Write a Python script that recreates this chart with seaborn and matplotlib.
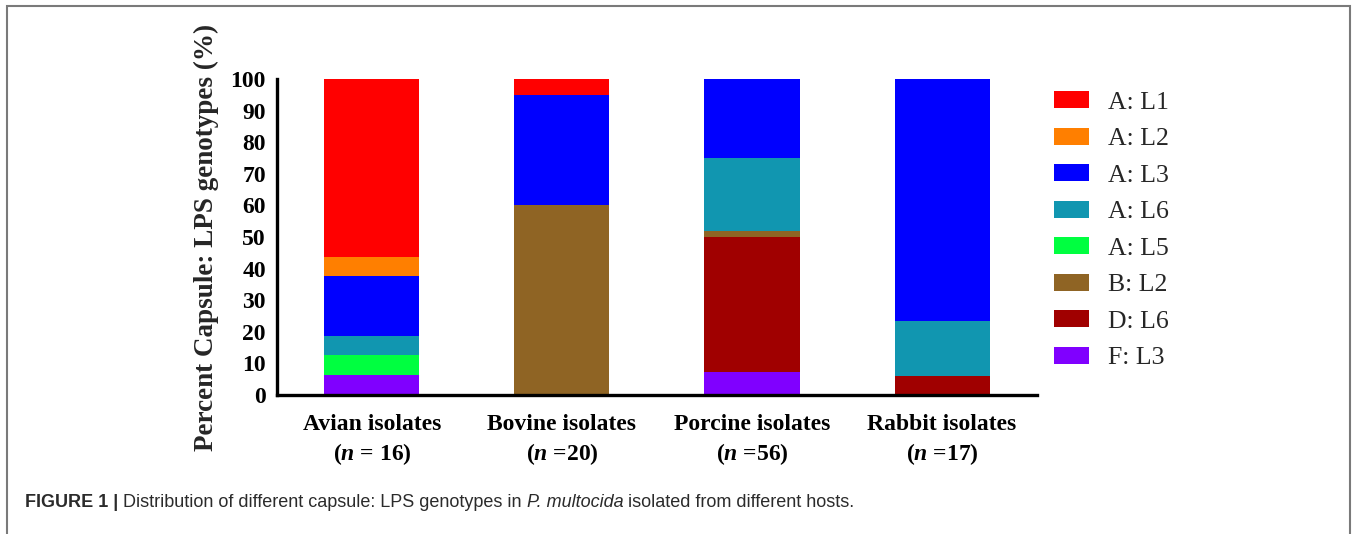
import matplotlib
matplotlib.use("Agg")
import matplotlib.pyplot as plt
from matplotlib.patches import Patch, Rectangle
from matplotlib.font_manager import FontProperties
import numpy as np
import pandas as pd
import seaborn as sns

# Host groups and their sample sizes
hosts = ["Avian isolates", "Bovine isolates", "Porcine isolates", "Rabbit isolates"]
n_labels = ["= 16", "=20", "=56", "=17"]

# Percent of isolates per capsule:LPS genotype (stacked bottom -> top)
stack_order = ["F: L3", "A: L5", "D: L6", "B: L2", "A: L6", "A: L3", "A: L2", "A: L1"]
pct_F_L3 = [6.25, 0.0, 7.14, 0.0]
pct_A_L5 = [6.25, 0.0, 0.0, 0.0]
pct_D_L6 = [0.0, 0.0, 42.86, 5.88]
pct_B_L2 = [0.0, 60.0, 1.79, 0.0]
pct_A_L6 = [6.25, 0.0, 23.21, 17.65]
pct_A_L3 = [18.75, 35.0, 25.0, 76.47]
pct_A_L2 = [6.25, 0.0, 0.0, 0.0]
pct_A_L1 = [56.25, 5.0, 0.0, 0.0]

legend_order = ["A: L1", "A: L2", "A: L3", "A: L6", "A: L5", "B: L2", "D: L6", "F: L3"]
colors = {
    "A: L1": "#FF0000",
    "A: L2": "#FF7F00",
    "A: L3": "#0000FF",
    "A: L6": "#1196B0",
    "A: L5": "#00FF40",
    "B: L2": "#8F6424",
    "D: L6": "#A00000",
    "F: L3": "#8000FF",
}

layers = {
    "F: L3": pct_F_L3, "A: L5": pct_A_L5, "D: L6": pct_D_L6, "B: L2": pct_B_L2,
    "A: L6": pct_A_L6, "A: L3": pct_A_L3, "A: L2": pct_A_L2, "A: L1": pct_A_L1,
}

sns.set_theme(style="white")
plt.rcParams["font.family"] = ["Liberation Serif", "DejaVu Serif"]
plt.rcParams["mathtext.fontset"] = "custom"
plt.rcParams["mathtext.it"] = "Liberation Serif:italic:bold"
plt.rcParams["mathtext.rm"] = "Liberation Serif:bold"

fig = plt.figure(figsize=(13.57, 5.34), dpi=100)
ax = fig.add_axes([0.2041, 0.2603, 0.5601, 0.5918])

# Stacked bars: draw running totals from the top layer down so each layer overlays the one above
values = np.array([layers[k] for k in stack_order])
cum = np.cumsum(values, axis=0)
for i in range(len(stack_order) - 1, -1, -1):
    df = pd.DataFrame({"host": hosts, "top": cum[i]})
    sns.barplot(data=df, x="host", y="top", order=hosts, color=colors[stack_order[i]],
                saturation=1, width=0.5, linewidth=0, errorbar=None, ax=ax)

bold_serif = FontProperties(family="Liberation Serif", weight="bold")

ax.set_xlim(-0.5, 3.5)
ax.set_ylim(0, 100)
ax.set_yticks(np.arange(0, 101, 10))
ax.set_xticks(range(len(hosts)))
ax.set_xticklabels([f"{h}\n($n$ {nl})" for h, nl in zip(hosts, n_labels)],
                   fontproperties=bold_serif, fontsize=17, linespacing=1.3)
for lbl in ax.get_yticklabels():
    lbl.set_fontproperties(bold_serif)
    lbl.set_fontsize(17)
ax.set_xlabel("")
ax.set_ylabel("Percent Capsule: LPS genotypes (%)", fontproperties=bold_serif,
              fontsize=19.5, labelpad=8)

for s in ["top", "right"]:
    ax.spines[s].set_visible(False)
for s in ["left", "bottom"]:
    ax.spines[s].set_linewidth(2.4)
    ax.spines[s].set_color("black")
ax.tick_params(axis="both", direction="out", length=7, width=2.4, color="black", labelcolor="black")
ax.tick_params(axis="y", pad=1)
ax.tick_params(axis="x", pad=7)

handles = [Patch(facecolor=colors[k], edgecolor="none", label=k) for k in legend_order]
fig.legend(handles=handles, loc="upper left", bbox_to_anchor=(0.7767, 0.829),
           frameon=False, fontsize=18.5, handlelength=1.35, handleheight=0.65,
           handletextpad=0.75, labelspacing=0.54, borderpad=0, borderaxespad=0)

# Caption line under the chart
cap_font = ["Liberation Sans Narrow", "Liberation Sans", "DejaVu Sans"]
pieces = [
    ("FIGURE 1 | ", "bold", "normal"),
    ("Distribution of different capsule: LPS genotypes in ", "normal", "normal"),
    ("P. multocida", "normal", "italic"),
    (" isolated from different hosts.", "normal", "normal"),
]
fig.canvas.draw()
renderer = fig.canvas.get_renderer()
x = 25 / 1357
y = 1 - 507 / 534
for txt, w, st in pieces:
    t = fig.text(x, y, txt, fontsize=13, fontweight=w, fontstyle=st, family=cap_font,
                 color="#2b2b2b", va="baseline", ha="left")
    bb = t.get_window_extent(renderer)
    x = bb.x1 / fig.bbox.width

# Figure frame
fig.patches.append(Rectangle((7 / 1357, -0.05), (1350 - 7) / 1357, 1 - 6 / 534 + 0.05,
                             transform=fig.transFigure, fill=False, edgecolor="#7a7a7a",
                             linewidth=1.5))

fig.savefig("out.png", dpi=100)
